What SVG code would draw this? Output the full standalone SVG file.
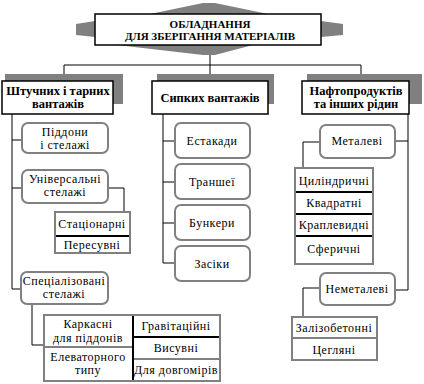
<svg xmlns="http://www.w3.org/2000/svg" width="424" height="384" viewBox="0 0 424 384" font-family="'Liberation Serif', 'DejaVu Serif', serif">
<style>
text{font-family:"Liberation Serif","DejaVu Serif",serif;fill:#000;text-anchor:middle}
.t{font-size:11px;font-weight:bold}
.h{font-size:12.5px;font-weight:bold}
.n{font-size:12px;letter-spacing:0.5px}
.shadow{fill:#808080;stroke:none}
.box{fill:#fff;stroke:#000;stroke-width:1.5}
.rbox{fill:#fff;stroke:#808080;stroke-width:2}
.tbl{fill:#fff;stroke:#808080;stroke-width:2}
.thick{stroke:#000;stroke-width:2}
.thin{stroke:#000;stroke-width:1}
.conn{fill:none;stroke:#000;stroke-width:1}
</style>
<rect width="424" height="384" fill="#fff"/>
<g id="connectors" class="conn">
<path d="M210 45V65M64 65H361M64 65V82M210 65V82M361 65V82"/>
<path d="M12 114V289H21M12 140H22M12 188H22M108 188H124V212M32 304V345H44"/>
<path d="M163 114V263H175M163 141H175M163 182H175M163 223H175"/>
<path d="M408 114V290H395M395 141H408M320 142H303V168M320 288H303V317"/>
</g>
<g id="title">
<polygon class="shadow" points="150,14 203,3 215,3 268,14"/>
<polygon class="shadow" points="117,45 253,45 215,55 203,55"/>
<polygon class="shadow" points="76,24 95,21 95,37 76,35"/>
<polygon class="shadow" points="321,21 343,24 343,35 321,37"/>
<rect class="box" x="95" y="14" width="226" height="31"/>
<text class="t" x="210" y="28">ОБЛАДНАННЯ</text>
<text class="t" x="210" y="40">ДЛЯ ЗБЕРІГАННЯ МАТЕРІАЛІВ</text>
</g>
<g id="piece">
<rect class="shadow" x="5" y="74" width="118" height="30"/>
<rect class="box" x="2" y="81" width="111" height="33"/>
<text class="h" x="58" y="95">Штучних і тарних</text>
<text class="h" x="58" y="108">вантажів</text>
</g>
<g id="bulk">
<rect class="shadow" x="157" y="74" width="117" height="30"/>
<rect class="box" x="152" y="81" width="116" height="33"/>
<text class="h" x="210" y="102">Сипких вантажів</text>
</g>
<g id="oil">
<rect class="shadow" x="307" y="74" width="115" height="30"/>
<rect class="box" x="302" y="81" width="107" height="33"/>
<text class="h" x="356" y="95">Нафтопродуктів</text>
<text class="h" x="356" y="108">та інших рідин</text>
</g>
<g id="pallets">
<rect class="rbox" x="22" y="123" width="86" height="30" rx="6"/>
<text class="n" x="65" y="136">Піддони</text>
<text class="n" x="65" y="149">і стелажі</text>
</g>
<g id="universal">
<rect class="rbox" x="22" y="170" width="86" height="33" rx="6"/>
<text class="n" x="65" y="183">Універсальні</text>
<text class="n" x="65" y="196">стелажі</text>
</g>
<g id="universal-types">
<rect class="tbl" x="55" y="212" width="75" height="41"/>
<line class="thick" x1="56" y1="236" x2="129" y2="236"/>
<text class="n" x="92" y="228">Стаціонарні</text>
<text class="n" x="92" y="249">Пересувні</text>
</g>
<g id="special">
<rect class="rbox" x="21" y="272" width="87" height="32" rx="6"/>
<text class="n" x="64" y="285">Спеціалізовані</text>
<text class="n" x="64" y="298">стелажі</text>
</g>
<g id="special-types">
<rect class="tbl" x="44" y="315" width="176" height="66"/>
<line class="thick" x1="133" y1="316" x2="133" y2="380"/>
<line class="thin" x1="45" y1="347" x2="133" y2="347"/>
<line class="thick" x1="133" y1="337" x2="219" y2="337"/>
<line class="thin" x1="133" y1="359" x2="219" y2="359"/>
<text class="n" x="88" y="328">Каркасні</text>
<text class="n" x="88" y="342">для піддонів</text>
<text class="n" x="88" y="361">Елеваторного</text>
<text class="n" x="88" y="374">типу</text>
<text class="n" x="176" y="330">Гравітаційні</text>
<text class="n" x="176" y="352">Висувні</text>
<text class="n" x="176" y="374">Для довгомірів</text>
</g>
<g id="trestles">
<rect class="rbox" x="175" y="123" width="75" height="35" rx="6"/>
<text class="n" x="212" y="145">Естакади</text>
</g>
<g id="trenches">
<rect class="rbox" x="175" y="164" width="75" height="35" rx="6"/>
<text class="n" x="212" y="186">Траншеї</text>
</g>
<g id="bunkers">
<rect class="rbox" x="175" y="205" width="75" height="35" rx="6"/>
<text class="n" x="212" y="227">Бункери</text>
</g>
<g id="bins">
<rect class="rbox" x="175" y="246" width="75" height="35" rx="6"/>
<text class="n" x="212" y="268">Засіки</text>
</g>
<g id="metal">
<rect class="rbox" x="320" y="125" width="75" height="33" rx="6"/>
<text class="n" x="357" y="145">Металеві</text>
</g>
<g id="metal-types">
<rect class="tbl" x="295" y="168" width="78" height="96"/>
<line class="thick" x1="296" y1="192" x2="372" y2="192"/>
<line class="thick" x1="296" y1="214" x2="372" y2="214"/>
<line class="thick" x1="296" y1="236" x2="372" y2="236"/>
<text class="n" x="334" y="185">Циліндричні</text>
<text class="n" x="334" y="207">Квадратні</text>
<text class="n" x="334" y="229">Краплевидні</text>
<text class="n" x="334" y="253">Сферичні</text>
</g>
<g id="nonmetal">
<rect class="rbox" x="320" y="273" width="75" height="32" rx="6"/>
<text class="n" x="357" y="293">Неметалеві</text>
</g>
<g id="nonmetal-types">
<rect class="tbl" x="292" y="317" width="85" height="43"/>
<line class="thin" x1="293" y1="338" x2="376" y2="338"/>
<text class="n" x="334" y="332">Залізобетонні</text>
<text class="n" x="334" y="354">Цегляні</text>
</g>
</svg>
